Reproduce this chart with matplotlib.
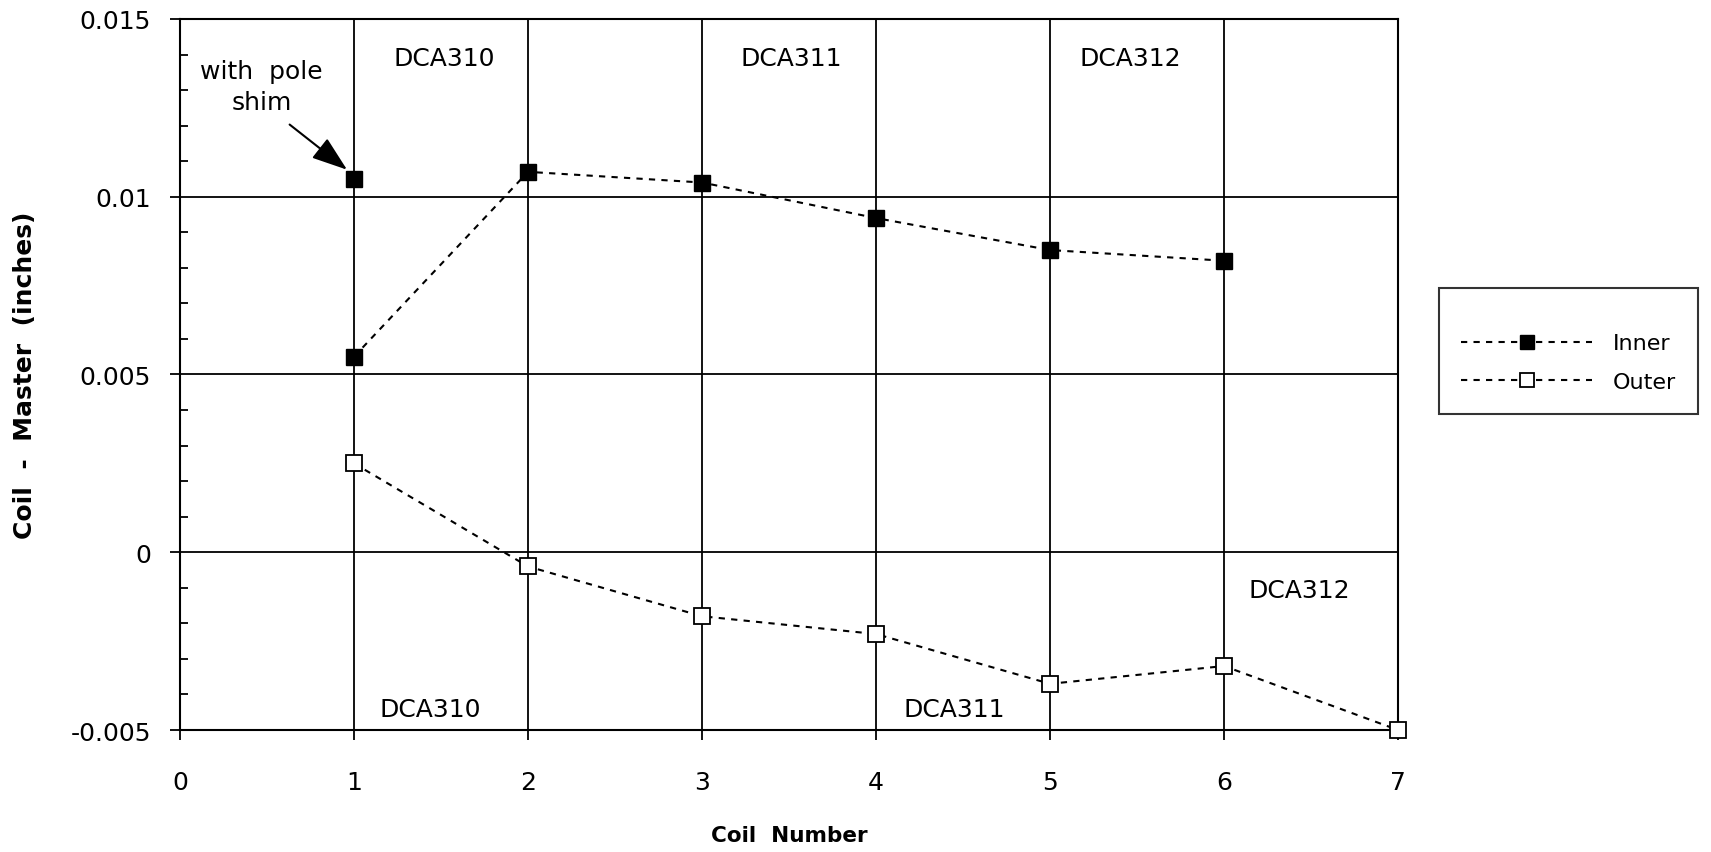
import matplotlib.pyplot as plt
from matplotlib.ticker import MultipleLocator

plt.rcParams['font.family'] = ['DejaVu Sans']

coil = [1, 2, 3, 4, 5, 6, 7]
inner = [0.0055, 0.0107, 0.0104, 0.0094, 0.0085, 0.0082]
outer = [0.0025, -0.0004, -0.0018, -0.0023, -0.0037, -0.0032, -0.0050]
shim_x = 1
shim_y = 0.0105

top_labels = ['DCA310', 'DCA311', 'DCA312']
top_x = [1.52, 3.51, 5.46]
bottom_labels = ['DCA310', 'DCA311', 'DCA312']
bottom_x = [1.44, 4.45, 6.43]
bottom_y = [-0.0044, -0.0044, -0.00105]

fig = plt.figure(figsize=(17.11, 8.53), dpi=100)
ax = fig.add_axes([0.1052, 0.1430, 0.7119, 0.8336])

ax.plot(coil[:len(inner)], inner, ls=(0, (3, 3)), color='black', lw=1.5,
        marker='s', ms=11, mfc='black', mec='black', label='Inner', clip_on=False)
ax.plot(coil, outer, ls=(0, (3, 3)), color='black', lw=1.5,
        marker='s', ms=12, mfc='white', mec='black', mew=1.3, label='Outer',
        zorder=3, clip_on=False)
ax.plot([shim_x], [shim_y], ls='none', marker='s', ms=11, color='black')

ax.set_xlim(0, 7)
ax.set_ylim(-0.005, 0.015)
ax.xaxis.set_major_locator(MultipleLocator(1))
ax.yaxis.set_minor_locator(MultipleLocator(0.001))
ax.set_yticks([-0.005, 0, 0.005, 0.01, 0.015])
ax.set_yticklabels(['-0.005', '0', '0.005', '0.01', '0.015'])
ax.grid(True, which='major', color='black', lw=1.3)
ax.tick_params(axis='both', which='major', direction='out', length=7, width=1.3,
               labelsize=18)
ax.tick_params(axis='y', which='major', pad=14)
ax.tick_params(axis='x', which='major', pad=22)
ax.tick_params(axis='y', which='minor', direction='in', length=6, width=1.3)
for s in ax.spines.values():
    s.set_linewidth(1.5)

for lab, x in zip(top_labels, top_x):
    ax.text(x, 0.0139, lab, ha='center', va='center', fontsize=18)
for lab, x, y in zip(bottom_labels, bottom_x, bottom_y):
    ax.text(x, y, lab, ha='center', va='center', fontsize=18)

ax.text(0.47, 0.0131, 'with  pole\nshim', ha='center', va='center',
        fontsize=18, linespacing=1.4)
ax.annotate('', xy=(0.96, 0.01076), xytext=(0.63, 0.01203),
            arrowprops=dict(arrowstyle='-|>,head_length=1.0,head_width=0.35',
                            color='black', lw=1.5, mutation_scale=22,
                            shrinkA=0, shrinkB=0))

ax.set_xlabel('Coil  Number', fontsize=15.5, fontweight='bold', labelpad=22)
ax.set_ylabel('Coil  -  Master  (inches)', fontsize=18, fontweight='bold')
ax.yaxis.set_label_coords(-0.117, 0.5)

# blank title just adds a bit of extra room above the first row, like the original
leg = fig.legend(loc='upper left', bbox_to_anchor=(0.8411, 0.661), fontsize=16,
                 title=' ', title_fontsize=2,
                 frameon=True, fancybox=False, edgecolor='black', numpoints=1,
                 handlelength=5.9, labelspacing=0.85, borderpad=1.0,
                 handletextpad=0.9, borderaxespad=0)
leg.get_frame().set_linewidth(1.5)
for h in leg.get_lines():
    h.set_markersize(10)

fig.savefig('out.png', dpi=100)
